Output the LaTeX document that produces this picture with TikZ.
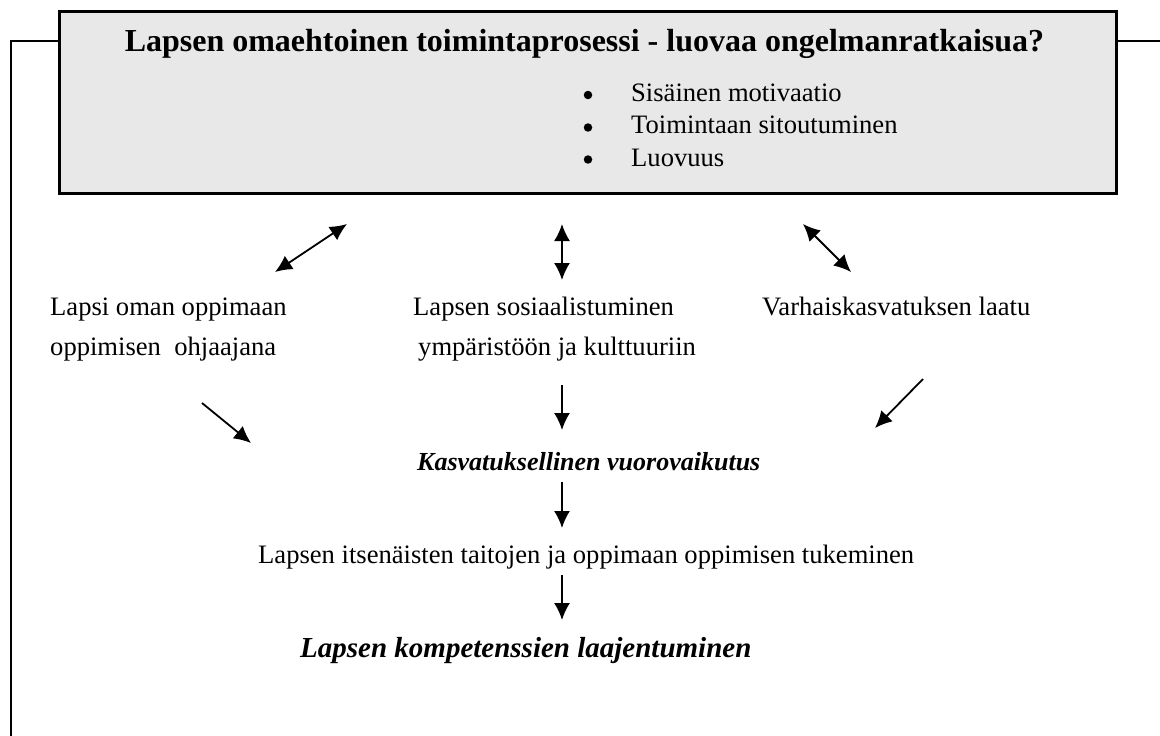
\documentclass[tikz,border=0pt]{standalone}
\usepackage{fontspec}
\setmainfont{Liberation Serif}
\usetikzlibrary{arrows.meta}
\begin{document}
\begin{tikzpicture}[x=1pt,y=-1pt,
  txt/.style={anchor=base west,inner sep=0pt,font=\fontsize{26.6}{30}\selectfont},
  btxt/.style={anchor=base west,inner sep=0pt,font=\fontsize{26}{30}\selectfont\bfseries\itshape},
  bul/.style={circle,fill=black,inner sep=0pt,minimum size=8.5pt},
  arr/.style={line width=1.8pt,-{Latex[length=17pt,width=16pt]}},
  darr/.style={line width=1.8pt,{Latex[length=17pt,width=16pt]}-{Latex[length=17pt,width=16pt]}},
  frameline/.style={line width=2pt}]
\useasboundingbox (0,0) rectangle (1160,736);
% outer frame
\coordinate (fb) at (10.5,736);
\coordinate (ftl) at (10.5,40.5);
\coordinate (fl) at (58,40.5);
\coordinate (fr1) at (1115,40.5);
\coordinate (fr2) at (1160,40.5);
\draw[frameline] (fb) -- (ftl) -- (fl);
\draw[frameline] (fr1) -- (fr2);
% top box
\node[draw, line width=2.5pt, fill=black!9, minimum width=1057pt, minimum height=182pt, inner sep=0pt, anchor=north west] (box) at (58,10) {};
\node[anchor=base, inner sep=0pt, font=\fontsize{32}{36}\selectfont\bfseries] (title) at (584.5,51) {Lapsen omaehtoinen toimintaprosessi - luovaa ongelmanratkaisua?};
\node[bul] (b1) at (588,95) {};
\node[bul] (b2) at (588,127.5) {};
\node[bul] (b3) at (588,159.5) {};
\node[txt] (i1) at (631,101) {Sisäinen motivaatio};
\node[txt] (i2) at (631,133) {Toimintaan sitoutuminen};
\node[txt] (i3) at (631,166) {Luovuus};
% three topics
\node[txt] (l1) at (50,315) {Lapsi oman oppimaan};
\node[txt] (l2) at (50,355) {oppimisen~ ohjaajana};
\node[txt] (m1) at (413,315) {Lapsen sosiaalistuminen};
\node[txt] (m2) at (418,355) {ympäristöön ja kulttuuriin};
\node[txt] (r1) at (762,315) {Varhaiskasvatuksen laatu};
\node[btxt] (kv) at (417,470) {Kasvatuksellinen vuorovaikutus};
\node[txt] (it) at (258,563) {Lapsen itsenäisten taitojen ja oppimaan oppimisen tukeminen};
\node[btxt, font=\fontsize{29}{34}\selectfont\bfseries\itshape] (kl) at (300,657) {Lapsen kompetenssien laajentuminen};
% arrow end points
\coordinate (a1s) at (275,272); \coordinate (a1e) at (347,224);
\coordinate (a2s) at (562,224); \coordinate (a2e) at (562,280);
\coordinate (a3s) at (803,224); \coordinate (a3e) at (851,272);
\coordinate (a4s) at (202,403); \coordinate (a4e) at (251,443);
\coordinate (a5s) at (562,385); \coordinate (a5e) at (562,430);
\coordinate (a6s) at (923,379); \coordinate (a6e) at (875,428);
\coordinate (a7s) at (562,482); \coordinate (a7e) at (562,528);
\coordinate (a8s) at (562,575); \coordinate (a8e) at (562,620);
\draw[darr] (a1s) -- (a1e);
\draw[darr] (a2s) -- (a2e);
\draw[darr] (a3s) -- (a3e);
\draw[arr] (a4s) -- (a4e);
\draw[arr] (a5s) -- (a5e);
\draw[arr] (a6s) -- (a6e);
\draw[arr] (a7s) -- (a7e);
\draw[arr] (a8s) -- (a8e);
\end{tikzpicture}
\end{document}
